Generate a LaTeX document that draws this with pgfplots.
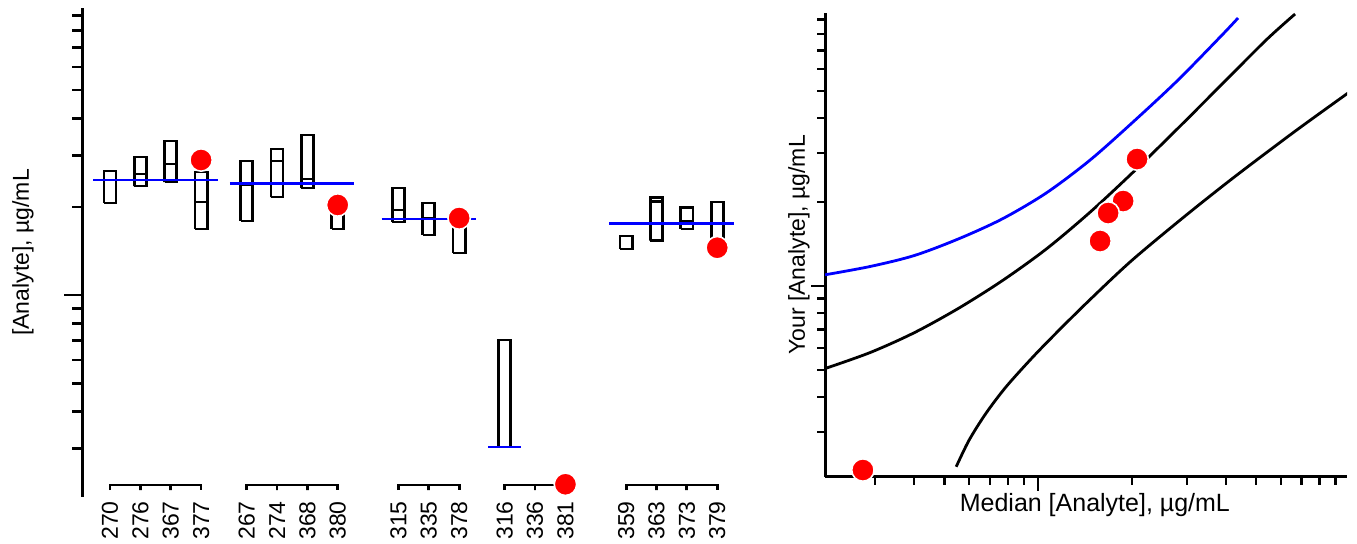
\documentclass[border=0pt]{standalone}
\usepackage{fontspec}
\setmainfont{Liberation Sans}
\setsansfont{Liberation Sans}
\usepackage{pgfplots}
\pgfplotsset{compat=1.18}
\definecolor{dotred}{RGB}{255,0,0}
\definecolor{lineblue}{RGB}{0,0,255}
\pgfplotsset{boxline/.style={black, line width=1.4pt}, medline/.style={lineblue, line width=1.4pt}}
\begin{document}
\begin{tikzpicture}[x=1pt,y=1pt]
\useasboundingbox (0,0) rectangle (678.5,272);
% ---------------- left panel ----------------
\begin{axis}[at={(41.25pt,23.5pt)}, anchor=south west, scale only axis,
  width=328.75pt, height=244.5pt,
  xmin=-0.906, xmax=20.75, ymode=log, ymin=2.045, ymax=95.4,
  axis y line=left, axis x line=bottom,
  axis line style={-, line width=1.5pt},
  x axis line style={draw=none},
  xtick={0,1,2,3,4.5,5.5,6.5,7.5,9.5,10.5,11.5,13,14,15,17,18,19,20},
  xticklabels={270,276,367,377,267,274,368,380,315,335,378,316,336,381,359,363,373,379},
  xtick style={draw=none},
  xticklabel shift=-8pt,
  xticklabel style={rotate=90, anchor=east, font=\fontsize{11.5}{13}\selectfont, inner sep=1pt},
  ytick={10}, minor ytick={3,4,5,6,7,8,9,20,30,40,50,60,70,80,90},
  yticklabels={\relax},
  tick align=outside, major tick length=9pt, minor tick length=5pt,
  ytick style={line width=1.3pt, black},
  ylabel={[Analyte], µg/mL},
  ylabel style={at={(axis description cs:-0.0905,0.5)}, anchor=center, font=\fontsize{11.5}{14}\selectfont},
  clip=false]
% boxes (lower edge, median, upper edge)
\addplot[boxline] coordinates {(-0.2,20.61)(0.2,20.61)(0.2,26.50)(-0.2,26.50)(-0.2,20.61)(-0.2,24.70)(0.2,24.70)};
\addplot[boxline] coordinates {(0.8,23.55)(1.2,23.55)(1.2,29.58)(0.8,29.58)(0.8,23.55)(0.8,25.88)(1.2,25.88)};
\addplot[boxline] coordinates {(1.8,24.30)(2.2,24.30)(2.2,33.55)(1.8,33.55)(1.8,24.30)(1.8,28.00)(2.2,28.00)};
\addplot[boxline] coordinates {(2.8,16.80)(3.2,16.80)(3.2,26.30)(2.8,26.30)(2.8,16.80)(2.8,20.77)(3.2,20.77)};
\addplot[boxline] coordinates {(4.3,17.89)(4.7,17.89)(4.7,28.66)(4.3,28.66)(4.3,17.89)(4.3,23.74)(4.7,23.74)};
\addplot[boxline] coordinates {(5.3,21.60)(5.7,21.60)(5.7,31.50)(5.3,31.50)(5.3,21.60)(5.3,28.66)(5.7,28.66)};
\addplot[boxline] coordinates {(6.3,23.19)(6.7,23.19)(6.7,35.16)(6.3,35.16)(6.3,23.19)(6.3,24.88)(6.7,24.88)};
\addplot[boxline] coordinates {(7.3,16.80)(7.7,16.80)(7.7,18.90)(7.3,18.90)(7.3,16.80)};
\addplot[boxline] coordinates {(9.3,17.75)(9.7,17.75)(9.7,23.19)(9.3,23.19)(9.3,17.75)(9.3,19.50)(9.7,19.50)};
\addplot[boxline] coordinates {(10.3,16.03)(10.7,16.03)(10.7,20.61)(10.3,20.61)(10.3,16.03)(10.3,18.31)(10.7,18.31)};
\addplot[boxline] coordinates {(11.3,13.91)(11.7,13.91)(11.7,17.20)(11.3,17.20)(11.3,13.91)};
\addplot[boxline] coordinates {(12.8,3.03)(13.2,3.03)(13.2,7.02)(12.8,7.02)(12.8,3.03)};
\addplot[boxline] coordinates {(16.8,14.36)(17.2,14.36)(17.2,15.90)(16.8,15.90)(16.8,14.36)};
\addplot[boxline] coordinates {(17.8,15.32)(18.2,15.32)(18.2,21.48)(17.8,21.48)(17.8,15.32)(17.8,20.81)(18.2,20.81)};
\addplot[boxline] coordinates {(18.8,16.80)(19.2,16.80)(19.2,19.86)(18.8,19.86)(18.8,16.80)(18.8,17.89)(19.2,17.89)};
\addplot[boxline] coordinates {(19.8,15.65)(20.2,15.65)(20.2,20.77)(19.8,20.77)(19.8,15.65)(19.8,17.57)(20.2,17.57)};
% group medians
\addplot[medline] coordinates {(-0.55,24.70)(3.55,24.70)};
\addplot[medline] coordinates {(3.95,24.06)(8.05,24.06)};
\addplot[medline] coordinates {(8.95,18.17)(12.05,18.17)};
\addplot[medline] coordinates {(12.45,3.03)(13.55,3.03)};
\addplot[medline] coordinates {(16.45,17.57)(20.55,17.57)};
% category group lines
\addplot[boxline] coordinates {(0,2.160)(0,2.247)(1,2.247)(1,2.160)(1,2.247)(2,2.247)(2,2.160)(2,2.247)(3,2.247)(3,2.160)};
\addplot[boxline] coordinates {(4.5,2.160)(4.5,2.247)(5.5,2.247)(5.5,2.160)(5.5,2.247)(6.5,2.247)(6.5,2.160)(6.5,2.247)(7.5,2.247)(7.5,2.160)};
\addplot[boxline] coordinates {(9.5,2.160)(9.5,2.247)(10.5,2.247)(10.5,2.160)(10.5,2.247)(11.5,2.247)(11.5,2.160)};
\addplot[boxline] coordinates {(13,2.160)(13,2.247)(14,2.247)(14,2.160)(14,2.247)(15,2.247)(15,2.160)};
\addplot[boxline] coordinates {(17,2.160)(17,2.247)(18,2.247)(18,2.160)(18,2.247)(19,2.247)(19,2.160)(19,2.247)(20,2.247)(20,2.160)};
% your values
\addplot[only marks, mark=*, mark size=5.6pt, mark options={fill=dotred, draw=white, line width=0.8pt}] coordinates {(3,28.89)(7.5,20.29)(11.5,18.31)(15,2.26)(20,14.50)};
\end{axis}
% ---------------- right panel ----------------
\begin{axis}[at={(412.5pt,33.65pt)}, anchor=south west, scale only axis,
  width=261pt, height=231.85pt,
  xmode=log, ymode=log, xmin=2.073, xmax=97.8, ymin=2.073, ymax=95.2,
  axis lines=left, axis line style={-, line width=1.5pt},
  xtick={10}, ytick={10},
  minor xtick={3,4,5,6,7,8,9,20,30,40,50,60,70,80,90},
  minor ytick={3,4,5,6,7,8,9,20,30,40,50,60,70,80,90},
  xticklabels={\relax}, yticklabels={\relax},
  tick align=outside, major tick length=7pt, minor tick length=4pt,
  tick style={line width=1.3pt, black},
  xlabel={Median [Analyte], µg/mL},
  xlabel style={at={(axis description cs:0.517,-0.061)}, anchor=center, font=\fontsize{12.5}{15}\selectfont},
  ylabel={Your [Analyte], µg/mL},
  ylabel style={at={(axis description cs:-0.050,0.5)}, anchor=center, font=\fontsize{11.5}{14}\selectfont},
  clip=true, clip marker paths=false]
\addplot[lineblue, line width=1.4pt, smooth] coordinates {
 (2.073,10.97)(2.894,11.75)(4.006,12.86)(5.541,14.74)(7.666,17.39)(10.61,21.54)(14.68,28.29)(20.31,39.03)(28.10,54.75)(38.88,79.37)(43.75,91.33)};
\addplot[black, line width=1.4pt, smooth] coordinates {
 (2.073,5.06)(2.894,5.776)(4.006,6.802)(5.541,8.305)(7.666,10.44)(10.61,13.56)(14.68,18.40)(20.31,25.79)(28.10,36.80)(38.88,52.92)(53.79,76.10)(66.65,94.38)};
\addplot[black, line width=1.4pt, smooth] coordinates {
 (5.461,2.250)(6.009,2.805)(6.813,3.505)(7.897,4.356)(9.638,5.579)(11.68,6.955)(14.68,8.946)(19.87,12.29)(28.94,17.46)(42.17,24.39)(66.15,35.65)(98.54,49.18)};
\addplot[only marks, mark=*, mark size=5.6pt, mark options={fill=dotred, draw=white, line width=0.8pt}] coordinates {(20.76,28.52)(18.73,20.17)(16.77,18.27)(15.80,14.50)(2.742,2.19)};
\end{axis}
\end{tikzpicture}
\end{document}
